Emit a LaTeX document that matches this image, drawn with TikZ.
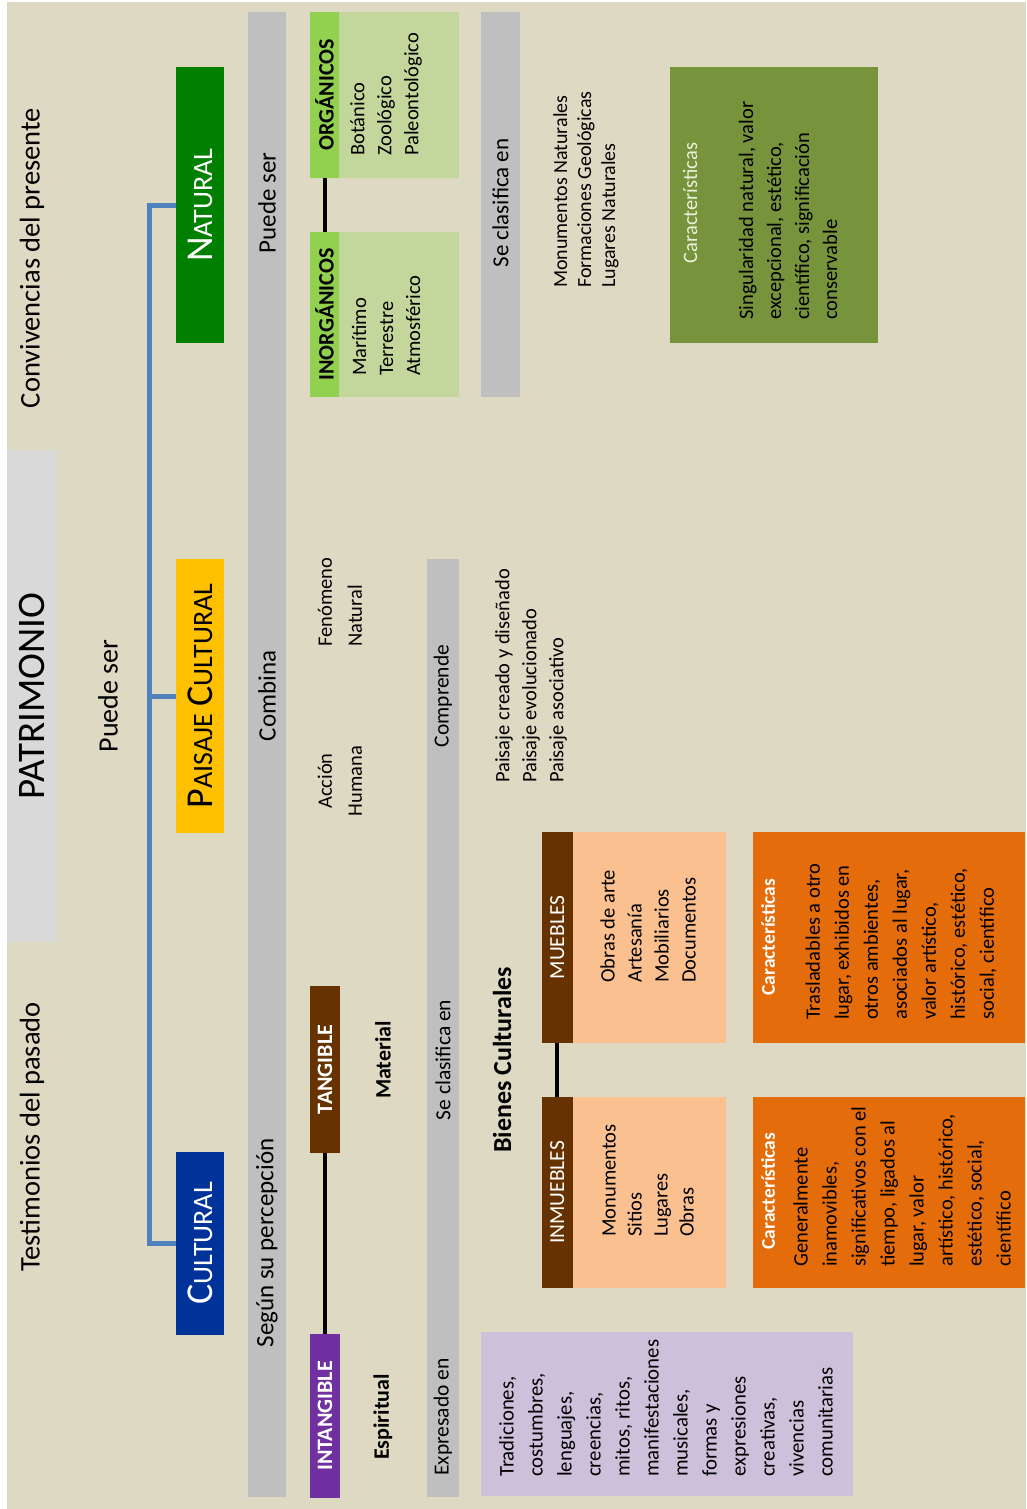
\documentclass[tikz,border=0pt]{standalone}
\usepackage{fontspec}
\setmainfont{Carlito}
\definecolor{paper}{HTML}{DDD9C3}
\definecolor{titlegray}{HTML}{D9D9D9}
\definecolor{bargray}{HTML}{BFBFBF}
\definecolor{trunkblue}{HTML}{4F81BD}
\definecolor{natgreen}{HTML}{008000}
\definecolor{paiyellow}{HTML}{FFC000}
\definecolor{culblue}{HTML}{003399}
\definecolor{hdrgreen}{HTML}{92D050}
\definecolor{lightgreen}{HTML}{C3D69B}
\definecolor{olive}{HTML}{77933C}
\definecolor{brown}{HTML}{663300}
\definecolor{purple}{HTML}{7030A0}
\definecolor{peach}{HTML}{FAC090}
\definecolor{orange}{HTML}{E46C0A}
\definecolor{lavender}{HTML}{CCC0DA}
\definecolor{palegreen}{HTML}{EBF1DE}
\newcommand{\fsz}[2]{\fontsize{#1}{#2}\selectfont}
\newcommand{\capsmall}[2]{{\fsz{38}{38}#1}{\fsz{28}{28}#2}}
\begin{document}
\begin{tikzpicture}[x=1pt,y=-1pt,
  rtxt/.style={rotate=90, inner sep=0pt, text=black, font=\fsz{20.5}{27}},
  lst/.style={rtxt, align=left, anchor=west},
  panel/.style={rotate=90, inner sep=0pt, draw=none},
  barlabel/.style={rtxt, font=\fsz{25}{27}},
  hdr/.style={panel, font=\bfseries\fsz{22}{24}},
  trunk/.style={draw=trunkblue, line width=5pt},
  link/.style={draw=black, line width=4pt}
]
\useasboundingbox (0,0) rectangle (1026,1509);
\fill[white] (0,0) rectangle (1026,1509);
\fill[paper] (7,2) rectangle (1026,1509);

% ---- heading row ----
\node[rtxt, font=\fsz{28.5}{30}] (pres) at (32,258) {Convivencias del presente};
\node[rtxt, font=\fsz{28.5}{30}] (pas) at (32,1137) {Testimonios del pasado};
\node[panel, fill=titlegray, minimum width=492pt, minimum height=50pt, font=\fsz{39}{40}] (patr) at (32,696) {PATRIMONIO};
\node[rtxt, font=\fsz{28}{30}] (puede) at (108,696) {Puede ser};

% ---- three kinds of heritage ----
\node[panel, fill=natgreen, text=white, minimum width=276pt, minimum height=48pt] (nat) at (200,205) {\capsmall{N}{ATURAL}};
\node[panel, fill=paiyellow, text=black, minimum width=274pt, minimum height=48pt] (pai) at (200,696) {\capsmall{P}{AISAJE}\hspace{7pt}\capsmall{C}{ULTURAL}};
\node[panel, fill=culblue, text=white, minimum width=183pt, minimum height=48pt] (cul) at (200,1243.5) {\capsmall{C}{ULTURAL}};

\coordinate (tr) at (149,0);
\draw[trunk] (nat.north) -- (nat.north -| tr) -- (cul.north -| tr) -- (cul.north);
\draw[trunk] (pai.north) -- (pai.north -| tr);

% ---- first grey band ----
\node[panel, fill=bargray, minimum width=1485pt, minimum height=38pt] (bar1) at (267,754.5) {};
\node[barlabel] (b1a) at (267,203) {Puede ser};
\node[barlabel] (b1b) at (267,696) {Combina};
\node[barlabel] (b1c) at (267,1243) {Según su percepción};

% ---- natural branch ----
\node[panel, fill=lightgreen, minimum width=166pt, minimum height=149pt] (orgbody) at (384.5,95) {};
\node[hdr, fill=hdrgreen, minimum width=166pt, minimum height=29pt] (org) at (324.5,95) {ORGÁNICOS};
\node[lst] (orgl) at (386,156) {Botánico\\Zoológico\\Paleontológico};

\node[panel, fill=lightgreen, minimum width=165pt, minimum height=149pt] (inobody) at (384.5,314.5) {};
\node[hdr, fill=hdrgreen, minimum width=165pt, minimum height=29pt] (ino) at (324.5,314.5) {INORGÁNICOS};
\node[lst] (inol) at (386,376) {Marítimo\\Terrestre\\Atmosférico};
\draw[link] (org.west) -- (ino.east);

\node[panel, fill=bargray, minimum width=385pt, minimum height=39pt] (bar2) at (500.5,204.5) {};
\node[rtxt, font=\fsz{23}{25}] (b2a) at (500.5,203) {Se clasifica en};
\node[lst, font=\fsz{20}{24}] (natl) at (586,288) {Monumentos Naturales\\Formaciones Geológicas\\Lugares Naturales};

\node[panel, fill=olive, minimum width=276pt, minimum height=208pt] (natc) at (774,205) {};
\node[rtxt, text=palegreen] (natct) at (690,203) {Características};
\node[lst, font=\fsz{20.5}{28}] (natcl) at (788,320) {Singularidad natural, valor\\excepcional, estético,\\científico, significación\\conservable};

% ---- cultural landscape branch ----
\node[rtxt, align=center, font=\fsz{20.5}{30}] (acc) at (340,781) {Acción\\Humana};
\node[lst, font=\fsz{20.5}{30}] (fen) at (340,647) {Fenómeno\\Natural};

\node[panel, fill=bargray, minimum width=938pt, minimum height=32pt] (bar3) at (443,1028) {};
\node[rtxt, font=\fsz{21.5}{24}] (b3a) at (443,696) {Comprende};
\node[rtxt, font=\fsz{21.5}{24}] (b3b) at (443,1060) {Se clasifica en};
\node[rtxt, font=\fsz{21.5}{24}] (b3c) at (443,1417) {Expresado en};

\node[lst, font=\fsz{20.5}{27}] (pail) at (531,783) {Paisaje creado y diseñado\\Paisaje evolucionado\\Paisaje asociativo};

% ---- cultural branch ----
\node[hdr, fill=brown, text=white, minimum width=167pt, minimum height=30pt] (tang) at (325,1069.5) {TANGIBLE};
\node[hdr, fill=purple, text=white, minimum width=164.5pt, minimum height=30pt] (intang) at (325,1416) {INTANGIBLE};
\draw[link] (tang.west) -- (intang.east);
\node[rtxt, font=\bfseries\fsz{22}{24}] (mat) at (383,1060) {Material};
\node[rtxt, font=\bfseries\fsz{22}{24}] (esp) at (383,1417) {Espiritual};

\node[rtxt, font=\bfseries\fsz{26}{28}] (bienes) at (502,1060) {Bienes Culturales};

\node[panel, fill=peach, minimum width=211pt, minimum height=153.5pt] (mueb) at (649.25,937.5) {};
\node[panel, fill=brown, text=white, minimum width=211pt, minimum height=30.5pt, font=\fsz{21.5}{24}] (muebh) at (557.25,937.5) {MUEBLES};
\node[lst] (muebl) at (648,983) {Obras de arte\\Artesanía\\Mobiliarios\\Documentos};

\node[panel, fill=peach, minimum width=191pt, minimum height=153.5pt] (inm) at (649.25,1192.5) {};
\node[panel, fill=brown, text=white, minimum width=191pt, minimum height=30.5pt, font=\fsz{21.5}{24}] (inmh) at (557.25,1192.5) {INMUEBLES};
\node[lst, font=\fsz{20.5}{26}] (inml) at (648,1237) {Monumentos\\Sitios\\Lugares\\Obras};
\draw[link] (muebh.west) -- (inmh.east);

\node[panel, fill=orange, minimum width=211pt, minimum height=272.5pt] (muebc) at (888.75,937.5) {};
\node[rtxt, text=white, font=\bfseries\fsz{19.5}{22}] (muebct) at (768,937) {Características};
\node[lst, font=\fsz{20.5}{29}] (muebcl) at (901,1020) {Trasladables a otro\\lugar, exhibidos en\\otros ambientes,\\asociados al lugar,\\valor artístico,\\histórico, estético,\\social, científico};

\node[panel, fill=orange, minimum width=191pt, minimum height=272.5pt] (inmc) at (888.75,1192.5) {};
\node[rtxt, text=white, font=\bfseries\fsz{19.5}{22}] (inmct) at (768,1191) {Características};
\node[lst, font=\fsz{20.5}{29}] (inmcl) at (902,1267) {Generalmente\\inamovibles,\\significativos con el\\tiempo, ligados al\\lugar, valor\\artístico, histórico,\\estético, social,\\científico};

\node[panel, fill=lavender, minimum width=164pt, minimum height=372pt] (intl) at (667,1414) {};
\node[lst, font=\fsz{20.8}{29}] (intll) at (666,1477) {Tradiciones,\\costumbres,\\lenguajes,\\creencias,\\mitos, ritos,\\manifestaciones\\musicales,\\formas y\\expresiones\\creativas,\\vivencias\\comunitarias};
\end{tikzpicture}
\end{document}
